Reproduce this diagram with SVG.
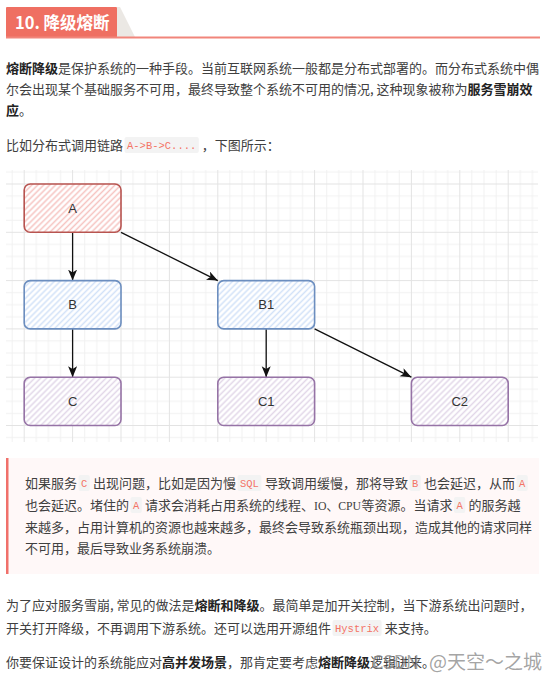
<svg xmlns="http://www.w3.org/2000/svg" width="554" height="682" viewBox="0 0 554 682">
<style>
.t{font-family:"Noto Sans CJK SC","Noto Sans",sans-serif;font-size:13px;fill:#404040}
.b{font-weight:bold;fill:#222}
.code{font-family:"Liberation Mono",monospace;font-size:10.5px;fill:#f47466}
.cbg{fill:#f3f3f3}
.lbl{font-family:"Liberation Sans",Arial,sans-serif;font-size:13px;fill:#333;text-anchor:middle}
.edge{stroke:#111;stroke-width:1.3;fill:none;marker-end:url(#arr)}
.nr{fill:url(#hr);stroke:#b85450;stroke-width:1.6}
.nb{fill:url(#hb);stroke:#6c8ebf;stroke-width:1.6}
.np{fill:url(#hp);stroke:#9673a6;stroke-width:1.6}
</style>
<defs>
<pattern id="grid" patternUnits="userSpaceOnUse" x="23.7" y="183.5" width="48.4" height="48.3">
<path d="M12.6 0V48.3M24.7 0V48.3M36.8 0V48.3M0 12.575H48.4M0 24.65H48.4M0 36.725H48.4" stroke="#f1f1f1" stroke-width="1"/>
<rect x="0" y="0" width="1" height="48.3" fill="#e3e3e3"/>
<rect x="0" y="0" width="48.4" height="1" fill="#e3e3e3"/>
</pattern>
<pattern id="hr" patternUnits="userSpaceOnUse" width="4.2" height="4.2" patternTransform="rotate(45)">
<rect width="4.2" height="4.2" fill="#fff"/><line x1="2.1" y1="0" x2="2.1" y2="4.2" stroke="#f6c4c1" stroke-width="1.5"/>
</pattern>
<pattern id="hb" patternUnits="userSpaceOnUse" width="4.2" height="4.2" patternTransform="rotate(45)">
<rect width="4.2" height="4.2" fill="#fff"/><line x1="2.1" y1="0" x2="2.1" y2="4.2" stroke="#d2e2f8" stroke-width="1.5"/>
</pattern>
<pattern id="hp" patternUnits="userSpaceOnUse" width="4.2" height="4.2" patternTransform="rotate(45)">
<rect width="4.2" height="4.2" fill="#fff"/><line x1="2.1" y1="0" x2="2.1" y2="4.2" stroke="#e2d7e8" stroke-width="1.5"/>
</pattern>
<marker id="arr" markerUnits="userSpaceOnUse" markerWidth="12" markerHeight="10" refX="11" refY="4.5" orient="auto">
<path d="M0,0 L11,4.5 L0,9 L2.8,4.5 Z" fill="#111"/>
</marker>
</defs>
<rect width="554" height="682" fill="#fff"/>

<!-- header -->
<g id="header">
<rect x="6" y="7" width="111" height="30.5" fill="#ef6f62" rx="1"/>
<polygon points="117,7 120,7 135,37 117,37" fill="#ebe8e4"/>
<rect x="6" y="36.5" width="534" height="2" fill="#f1857b"/>
<text x="15" y="29" font-family="Noto Sans CJK SC, sans-serif" font-weight="bold" font-size="16.5" fill="#fff">10. 降级熔断</text>
</g>

<!-- paragraph 1 -->
<text class="t" x="6" y="72.5"><tspan class="b">熔断降级</tspan>是保护系统的一种手段。当前互联网系统一般都是分布式部署的。而分布式系统中偶</text>
<text class="t" x="6" y="94">尔会出现某个基础服务不可用，最终导致整个系统不可用的情况, 这种现象被称为<tspan class="b">服务雪崩效</tspan></text>
<text class="t" x="6" y="115"><tspan class="b">应</tspan>。</text>
<text class="t" x="6" y="149.5">比如分布式调用链路</text>
<rect class="cbg" x="124.5" y="137" width="74.3" height="16" rx="2"/>
<text class="code" x="127" y="148.5">A-&gt;B-&gt;C....</text>
<text class="t" x="201.8" y="149.5">，下图所示：</text>

<!-- diagram grid -->
<rect x="6" y="170" width="532" height="272" fill="url(#grid)"/>

<g id="connectors">
<path class="edge" d="M72.6 232.3V280.6"/>
<path class="edge" d="M121 232.3L217.8 280.6"/>
<path class="edge" d="M72.6 328.9V377.2"/>
<path class="edge" d="M266.2 328.9V377.2"/>
<path class="edge" d="M314.6 328.9L411.4 377.2"/>
</g>

<g id="node-A"><rect class="nr" x="24.2" y="184" width="96.8" height="48.3" rx="6"/><text class="lbl" x="72.6" y="212.8">A</text></g>
<g id="node-B"><rect class="nb" x="24.2" y="280.6" width="96.8" height="48.3" rx="6"/><text class="lbl" x="72.6" y="309.4">B</text></g>
<g id="node-B1"><rect class="nb" x="217.8" y="280.6" width="96.8" height="48.3" rx="6"/><text class="lbl" x="266.2" y="309.4">B1</text></g>
<g id="node-C"><rect class="np" x="24.2" y="377.2" width="96.8" height="48.3" rx="6"/><text class="lbl" x="72.6" y="406">C</text></g>
<g id="node-C1"><rect class="np" x="217.8" y="377.2" width="96.8" height="48.3" rx="6"/><text class="lbl" x="266.2" y="406">C1</text></g>
<g id="node-C2"><rect class="np" x="411.4" y="377.2" width="96.8" height="48.3" rx="6"/><text class="lbl" x="459.8" y="406">C2</text></g>

<!-- blockquote -->
<rect x="6" y="458" width="533" height="116" fill="#fff8f8"/>
<rect x="6" y="458" width="2.5" height="116" fill="#f0706a"/>
<text class="t" x="25" y="487.5">如果服务</text>
<rect class="cbg" x="78.5" y="475" width="11.3" height="16" rx="2"/><text class="code" x="81" y="486.5">C</text>
<text class="t" x="93" y="487.5">出现问题，比如是因为慢</text>
<rect class="cbg" x="237.5" y="475" width="23.9" height="16" rx="2"/><text class="code" x="240" y="486.5">SQL</text>
<text class="t" x="265" y="487.5">导致调用缓慢，那将导致</text>
<rect class="cbg" x="409.5" y="475" width="11.3" height="16" rx="2"/><text class="code" x="412" y="486.5">B</text>
<text class="t" x="424" y="487.5">也会延迟，从而</text>
<rect class="cbg" x="516.5" y="475" width="11.3" height="16" rx="2"/><text class="code" x="519" y="486.5">A</text>

<text class="t" x="25" y="509.5">也会延迟。堵住的</text>
<rect class="cbg" x="130.5" y="497" width="11.3" height="16" rx="2"/><text class="code" x="133" y="508.5">A</text>
<text class="t" x="145" y="509.5">请求会消耗占用系统的线程、</text>
<text class="t" x="314" y="509.5" textLength="47" lengthAdjust="spacingAndGlyphs"><tspan font-family="Liberation Serif, serif">IO</tspan>、<tspan font-family="Liberation Serif, serif">CPU</tspan></text>
<text class="t" x="361.5" y="509.5">等资源。当请求</text>
<rect class="cbg" x="454" y="497" width="11.3" height="16" rx="2"/><text class="code" x="456.5" y="508.5">A</text>
<text class="t" x="468.5" y="509.5">的服务越</text>
<text class="t" x="25" y="531.5">来越多，占用计算机的资源也越来越多，最终会导致系统瓶颈出现，造成其他的请求同样</text>
<text class="t" x="25" y="552.5">不可用，最后导致业务系统崩溃。</text>

<!-- paragraph 2 -->
<text class="t" x="6" y="609.5">为了应对服务雪崩, 常见的做法是<tspan class="b">熔断和降级</tspan>。最简单是加开关控制，当下游系统出问题时，</text>
<text class="t" x="6" y="632.5">开关打开降级，不再调用下游系统。还可以选用开源组件</text>
<rect class="cbg" x="332.5" y="620" width="49.1" height="16" rx="2"/><text class="code" x="335" y="631.5">Hystrix</text>
<text class="t" x="384.8" y="632.5">来支持。</text>
<text class="t" x="6" y="666.5">你要保证设计的系统能应对<tspan class="b">高并发场景</tspan>，那肯定要考虑<tspan class="b">熔断降级</tspan>逻辑进来。</text>

<!-- watermark -->
<text x="372" y="669" font-family="Noto Sans CJK SC, sans-serif" font-size="18" fill="#8c8c8c" fill-opacity="0.8">CSDN</text>
<text x="429" y="669" font-family="Noto Sans CJK SC, sans-serif" font-size="19" fill="#8c8c8c" fill-opacity="0.8">@天空～之城</text>
</svg>
